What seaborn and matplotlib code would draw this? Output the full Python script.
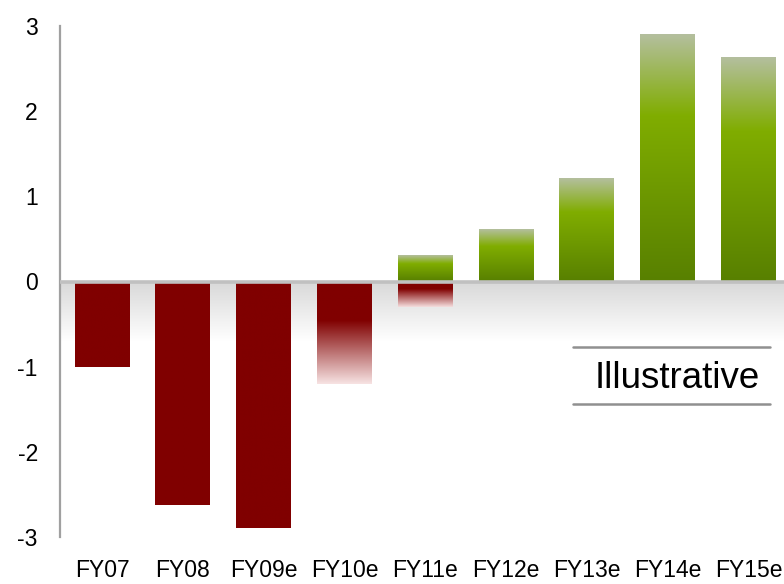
import numpy as np
import pandas as pd
import matplotlib
matplotlib.use("Agg")
import matplotlib.pyplot as plt
from matplotlib.colors import LinearSegmentedColormap
from matplotlib.lines import Line2D
import seaborn as sns

# Fiscal years and their contributions (gains above zero, losses below)
periods = ["FY07", "FY08", "FY09e", "FY10e", "FY11e", "FY12e", "FY13e", "FY14e", "FY15e"]
gains = [0.0, 0.0, 0.0, 0.0, 0.3, 0.6, 1.2, 2.9, 2.63]
losses = [-1.0, -2.62, -2.9, -1.2, -0.3, 0.0, 0.0, 0.0, 0.0]
y_ticks = [-3, -2, -1, 0, 1, 2, 3]

sns.set_theme(style="white")
plt.rcParams["font.family"] = ["Liberation Sans", "DejaVu Sans"]

fig = plt.figure(figsize=(7.84, 5.84), dpi=100)
ax = fig.add_axes([60 / 784, 47 / 584, 1 - 60 / 784, 511 / 584])

df = pd.DataFrame({"period": periods, "gain": gains, "loss": losses})
sns.barplot(data=df, x="period", y="gain", order=periods, width=0.68, ax=ax,
            color="#80ad00", saturation=1)
sns.barplot(data=df, x="period", y="loss", order=periods, width=0.68, ax=ax,
            color="#800000", saturation=1)

# Vertical colour ramps (top -> bottom) used to paint each bar
green_ramp = [(0.0, "#b4bf9e"), (0.33, "#80ad00"), (1.0, "#588000")]
red_solid = [(0.0, "#800000"), (1.0, "#800000")]
red_fade_long = [(0.0, "#800000"), (0.38, "#800000"), (1.0, "#f7e3e3")]
red_fade_short = [(0.0, "#800000"), (0.3, "#800000"), (1.0, "#f5dede")]
loss_style = {"FY10e": red_fade_long, "FY11e": red_fade_short}


def ramp_image(stops, n=256):
    cmap = LinearSegmentedColormap.from_list("ramp", stops)
    return cmap(np.linspace(0, 1, n))[:, None, :]


for patch in list(ax.patches):
    h = patch.get_height()
    if h == 0 or np.isnan(h):
        patch.set_visible(False)
        continue
    x0 = patch.get_x()
    w = patch.get_width()
    y0 = patch.get_y()
    idx = int(round(x0 + w / 2))
    if h > 0:
        stops = green_ramp
    else:
        stops = loss_style.get(periods[idx], red_solid)
    bottom, top = min(y0, y0 + h), max(y0, y0 + h)
    ax.imshow(ramp_image(stops), extent=(x0, x0 + w, bottom, top),
              origin="upper", aspect="auto", zorder=2,
              interpolation="bilinear")
    patch.set_facecolor("none")
    patch.set_edgecolor("none")

ax.set_xlim(-0.52, 8.44)
ax.set_ylim(-3, 3)

# Soft shadow beneath the zero line
shade = ramp_image([(0.0, "#d8d8d8"), (1.0, "#ffffff")])
ax.imshow(shade, extent=(-0.52, 8.44, -0.7, 0), origin="upper",
          aspect="auto", zorder=0.5, interpolation="bilinear")
ax.axhline(0, color="#c0c0c0", lw=2.6, zorder=3)

ax.set_yticks(y_ticks)
ax.set_yticklabels([str(t) for t in y_ticks])
ax.set_xlabel("")
ax.set_ylabel("")
ax.tick_params(axis="x", length=0, pad=16, labelsize=16.5, colors="black")
ax.tick_params(axis="y", length=0, pad=16, labelsize=16.5, colors="black")

for side in ["top", "right", "bottom"]:
    ax.spines[side].set_visible(False)
ax.spines["left"].set_color("#a0a0a0")
ax.spines["left"].set_linewidth(1.6)
ax.grid(False)

# "Illustrative" tag framed by two rules
fig.add_artist(Line2D([573 / 784, 770 / 784], [237 / 584, 237 / 584],
                      color="#909090", lw=1.8))
fig.add_artist(Line2D([573 / 784, 770 / 784], [180 / 584, 180 / 584],
                      color="#909090", lw=1.8))
fig.text(677 / 784, 206 / 584, "Illustrative", ha="center", va="center",
         fontsize=26.5, color="black")

fig.savefig("out.png", dpi=100)
